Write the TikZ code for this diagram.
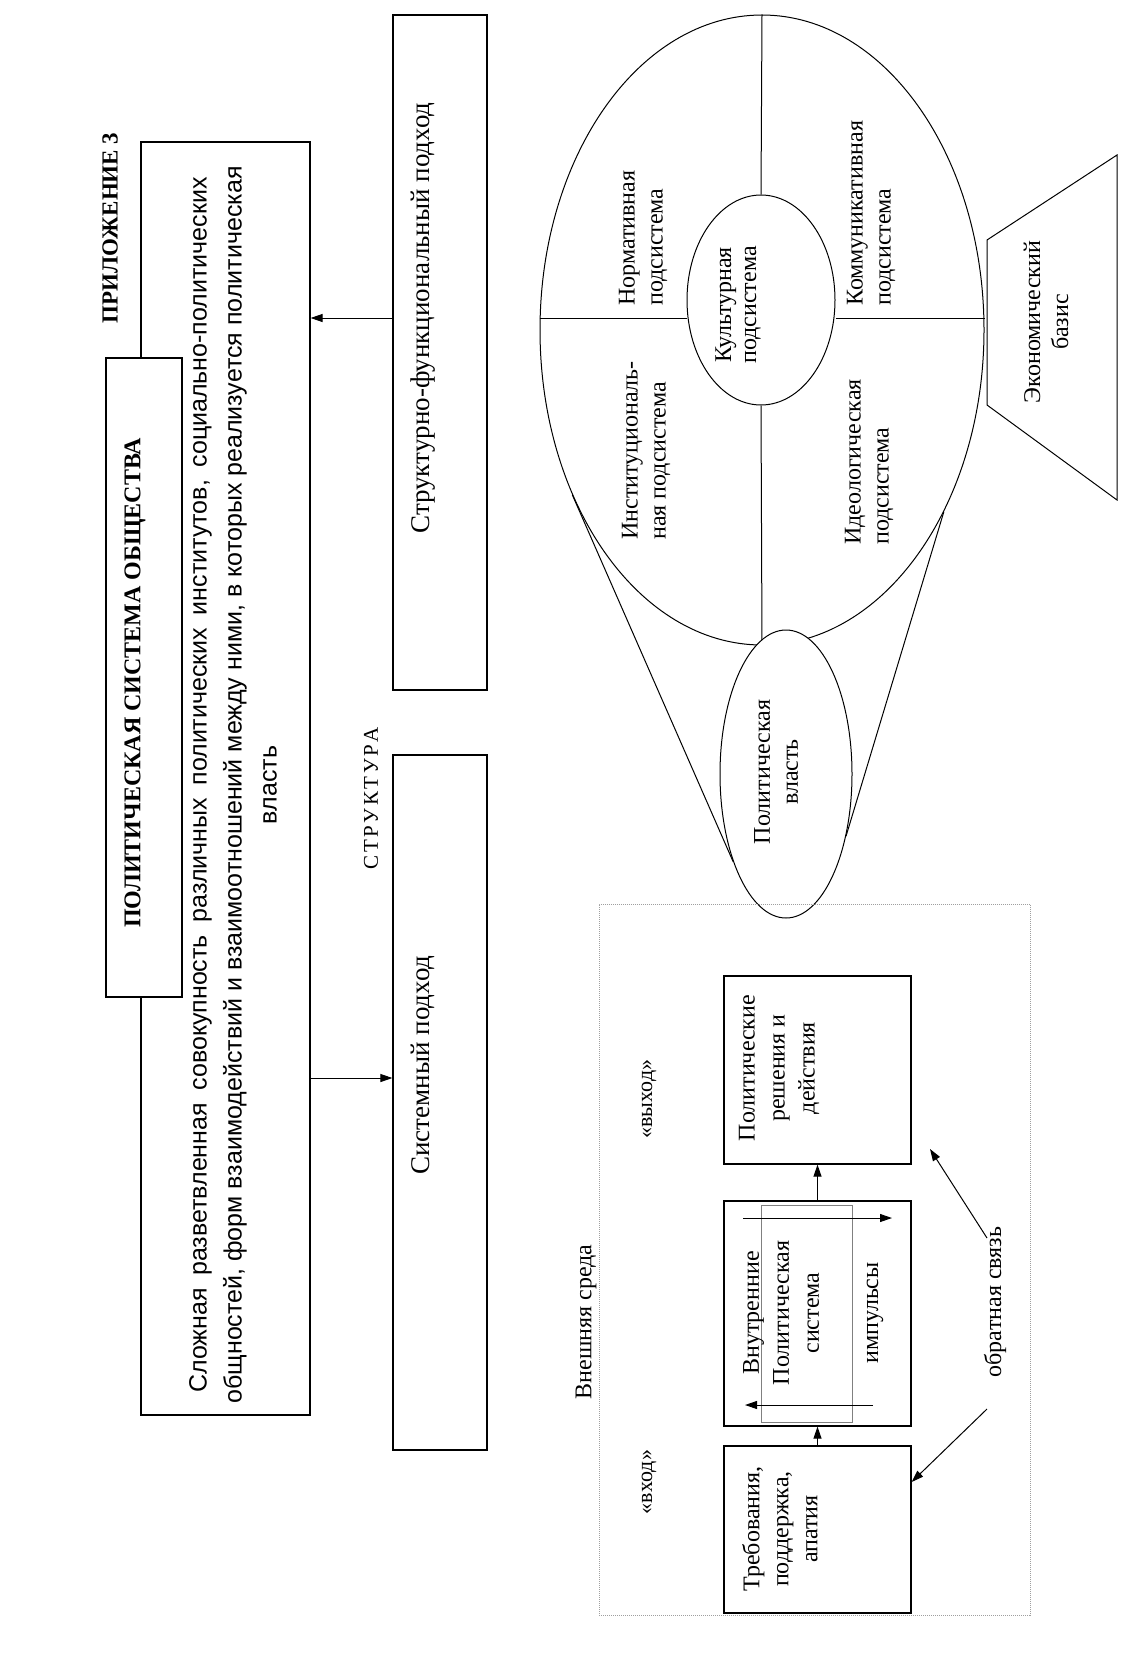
\documentclass[tikz,border=0pt]{standalone}
\usepackage{fontspec}
\setmainfont{Liberation Serif}
\newfontfamily\arialf{Liberation Sans}
\usetikzlibrary{arrows.meta,shapes.geometric}
\begin{document}
\begin{tikzpicture}[x=1pt,y=-1pt,
  box/.style={draw, line width=1.2pt, inner sep=0pt},
  thinl/.style={line width=1pt},
  txt/.style={rotate=90, inner sep=0pt, align=center},
  fs/.style={font=\fontsize{24}{28}\selectfont},
  fb/.style={font=\fontsize{24}{30}\selectfont},
  fbig/.style={font=\fontsize{27}{33}\selectfont},
  arr/.style={-{Triangle[length=12pt,width=8pt]}, line width=1pt},
  ell/.style={draw, ellipse, line width=1pt, inner sep=0pt},
]
\useasboundingbox (0,0) rectangle (1143,1662);
\fill[white] (0,0) rectangle (1143,1662);

% ---------- upper left ----------
\node[txt, font=\bfseries\fontsize{23}{27}\selectfont] (app) at (110,228) {ПРИЛОЖЕНИЕ 3};
\node[box, minimum width=169pt, minimum height=1273pt] (def) at (225.5,778.5) {};
\node[box, fill=white, minimum width=76pt, minimum height=639pt] (title) at (144,677.5) {};
\node[txt, font=\bfseries\fontsize{24}{29}\selectfont] (titletxt) at (135,683) {ПОЛИТИЧЕСКАЯ СИСТЕМА ОБЩЕСТВА};
\node[txt, font=\arialf\fontsize{25}{35}\selectfont] (deftxt) at (233,785)
 {{\spaceskip=12.5pt\relax Сложная разветвленная совокупность различных политических институтов, социально-политических}\\
  общностей, форм взаимодействий и взаимоотношений между ними, в которых реализуется политическая\\
  власть};
\node[txt, font=\fontsize{21}{25}\selectfont] (struct) at (371,798)
 {С\hspace{0.12em}Т\hspace{0.12em}Р\hspace{0.12em}У\hspace{0.12em}К\hspace{0.12em}Т\hspace{0.12em}У\hspace{0.12em}Р\hspace{0.12em}А};
\node[box, minimum width=94pt, minimum height=675pt] (sf) at (440,352.5) {};
\node[txt, fbig] (sftxt) at (423,318) {Структурно-функциональный подход};
\node[box, minimum width=94pt, minimum height=695pt] (sys) at (440,1102.5) {};
\node[txt, fbig] (systxt) at (423,1065) {Системный подход};
\draw[arr] (sf.west |- 0,318) -- (def.east |- 0,318);
\draw[arr] (def.east |- 0,1078) -- (sys.west |- 0,1078);

% ---------- upper right ----------
\node[ell, minimum width=444pt, minimum height=630pt] (big) at (762,330) {};
\node[ell, minimum width=148pt, minimum height=210pt] (cult) at (761,300) {};
\draw[thinl] (big.north) -- (cult.north);
\draw[thinl] (cult.south) -- (big.south);
\draw[thinl] (big.west |- 0,318) -- (cult.west |- 0,318);
\draw[thinl] (cult.east |- 0,318) -- (big.east |- 0,318);
\node[ell, fill=white, minimum width=132pt, minimum height=288pt] (pol) at (786,774) {};
\draw[thinl] (big.221) -- (pol.239);
\draw[thinl] (big.315) -- (pol.314);
\node[txt, fs] (poltxt) at (776,772) {Политическая\\власть};
\node[txt, font=\fontsize{24}{25}\selectfont] (culttxt) at (738,305) {Культурная\\подсистема};
\node[txt, fs, anchor=west, align=left] (norm) at (643,306) {Нормативная\\подсистема};
\node[txt, fs, anchor=west, align=left] (inst) at (646,540) {Институциональ-\\ная подсистема};
\node[txt, fs, anchor=west, align=left] (comm) at (871,306) {Коммуникативная\\подсистема};
\node[txt, fs, anchor=west, align=left] (ideo) at (869,545) {Идеологическая\\подсистема};
\draw[thinl] (987,240) -- (1117,155) -- (1117,500) -- (987,405) -- cycle;
\node[txt, fs] (econ) at (1046,322) {Экономический\\базис};

% ---------- lower ----------
\node[draw=gray!75, densely dotted, line width=1pt, minimum width=431pt, minimum height=711pt, inner sep=0pt] (env) at (814.5,1259.5) {};
\node[txt, fs] (envtxt) at (586,1322) {Внешняя среда};
\node[txt, font=\fontsize{22}{26}\selectfont] (outtxt) at (649,1099) {«выход»};
\node[txt, font=\fontsize{22}{26}\selectfont] (intxt) at (649,1482) {«вход»};
\node[box, minimum width=187pt, minimum height=188pt] (b1) at (817.5,1070) {};
\node[txt, fb] (b1txt) at (779,1068) {Политические\\решения и\\действия};
\node[box, minimum width=187pt, minimum height=225pt] (b2) at (817.5,1313.5) {};
\node[draw=gray, line width=0.8pt, minimum width=91pt, minimum height=217pt, inner sep=0pt] (inner) at (806.5,1313.5) {};
\node[txt, fb] (b2txt) at (781,1313) {Внутренние\\Политическая\\система};
\node[txt, fb] (imptxt) at (875,1313) {импульсы};
\node[box, minimum width=187pt, minimum height=167pt] (b3) at (817.5,1529.5) {};
\node[txt, font=\fontsize{24}{29}\selectfont] (b3txt) at (780,1529) {Требования,\\поддержка,\\апатия};
\draw[arr] (b3) -- (b2);
\draw[arr] (b2) -- (b1);
\coordinate (ia1) at (743,1218); \coordinate (ia2) at (892,1218);
\coordinate (ib1) at (873,1405); \coordinate (ib2) at (745,1405);
\draw[arr] (ia1) -- (ia2);
\draw[arr] (ib1) -- (ib2);
\node[txt, fs] (fbtxt) at (995,1302) {обратная связь};
\coordinate (fb1) at (987,1238); \coordinate (fbt1) at (930,1149);
\coordinate (fb2) at (987,1409);
\draw[arr] (fb1) -- (fbt1);
\draw[arr] (fb2) -- (b3.east |- 0,1482);
\end{tikzpicture}
\end{document}
